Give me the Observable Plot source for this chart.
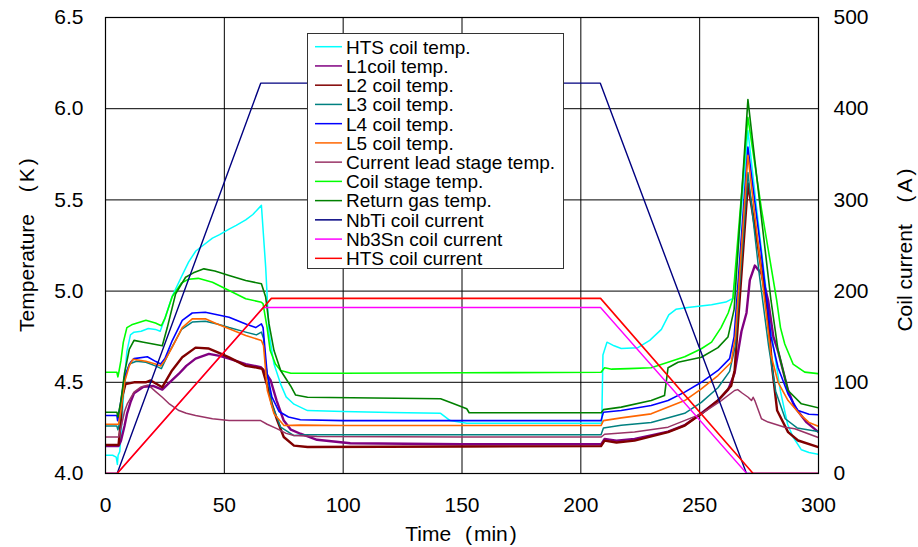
<!DOCTYPE html>
<html><head><meta charset="utf-8">
<script src="https://cdn.jsdelivr.net/npm/d3@7"></script>
<script src="https://cdn.jsdelivr.net/npm/@observablehq/plot@0.6"></script>
<style>
body{margin:0;background:#fff;}
#wrap{position:relative;width:918px;height:547px;font-family:"Liberation Sans",Arial,sans-serif;color:#000;}
.lab{position:absolute;font-size:21px;white-space:nowrap;transform:translate(-50%,-50%);}
.rot{transform:translate(-50%,-50%) rotate(-90deg);}
.po{margin-left:var(--gap);margin-right:var(--in);}
.pc{margin-left:var(--in);}
#legend{position:absolute;left:307px;top:33px;}
</style></head>
<body><div id="wrap"></div>
<script>
// ---- tick values ----
const xTicks = [0, 50, 100, 150, 200, 250, 300];
const tempTicks = [4.0, 4.5, 5.0, 5.5, 6.0, 6.5];
const currentTicks = [0, 100, 200, 300, 400, 500];

// ---- temperature series [time (min), temperature (K)] ----
const htsCoilTemp = [[0,4.10],[3,4.10],[4.5,4.09],[5,4.05],[5.3,4.10],[6,4.12],[7,4.30],[8,4.52],[9,4.67],[10.5,4.76],[12,4.775],[15,4.78],[18,4.795],[21,4.79],[23,4.78],[25,4.85],[28,4.97],[32,5.08],[35,5.16],[38,5.22],[41,5.25],[45,5.29],[48,5.31],[52,5.34],[55,5.36],[59,5.39],[62,5.42],[65.6,5.47],[67.4,5.13],[68.8,4.77],[70.9,4.60],[73.7,4.49],[76,4.42],[79.3,4.38],[85,4.345],[100,4.34],[120,4.335],[141,4.33],[145,4.29],[152,4.275],[180,4.275],[208.8,4.275],[209.3,4.65],[211,4.72],[214,4.70],[217,4.685],[224,4.69],[229,4.73],[233.9,4.79],[237,4.87],[240,4.90],[245,4.91],[255,4.925],[261,4.94],[264,4.96],[266,5.2],[270.3,5.88],[274,5.45],[278,5.0],[281,4.7],[284,4.45],[287,4.27],[289.3,4.2],[292.8,4.13],[296,4.115],[300,4.105]];
const l1CoilTemp = [[0,4.15],[5.5,4.15],[6.5,4.18],[8,4.26],[9.1,4.33],[10.5,4.39],[12,4.44],[16,4.475],[20,4.48],[23.9,4.46],[27,4.50],[30.9,4.547],[34,4.59],[37.9,4.63],[43.5,4.656],[48,4.645],[52,4.63],[59,4.60],[65.3,4.583],[67,4.56],[69.5,4.51],[72,4.40],[75,4.29],[78,4.24],[82,4.218],[89,4.185],[103,4.166],[150,4.16],[208.5,4.16],[210,4.19],[215,4.18],[222.6,4.19],[230,4.21],[236.7,4.23],[243.7,4.265],[250.7,4.33],[257.7,4.40],[262,4.46],[264.7,4.55],[267.6,4.78],[269.7,4.88],[271.1,5.06],[273.2,5.14],[276,5.095],[278.8,4.95],[281,4.75],[283,4.67],[287.2,4.455],[290,4.364],[295,4.28],[300,4.227]];
const l2CoilTemp = [[0,4.157],[5.5,4.157],[6.5,4.3],[7,4.418],[8.4,4.49],[12,4.50],[16.9,4.50],[19,4.51],[23.9,4.473],[28,4.565],[32.3,4.637],[37.9,4.69],[43.5,4.685],[48,4.66],[52,4.637],[59,4.59],[64,4.58],[66,4.574],[67.4,4.51],[68.8,4.45],[70,4.38],[72.3,4.29],[75,4.20],[79.3,4.153],[85,4.145],[150,4.148],[208.5,4.15],[210,4.18],[215,4.17],[222.6,4.18],[236.7,4.227],[243.7,4.263],[250.7,4.327],[257.7,4.40],[263.3,4.482],[264.7,4.565],[270.3,5.59],[274.6,5.24],[278.5,4.90],[280.5,4.58],[282.6,4.345],[287.2,4.227],[291.4,4.181],[300,4.144]];
const l3CoilTemp = [[0,4.26],[4.8,4.26],[5.2,4.24],[5.6,4.26],[7,4.40],[8.5,4.54],[10,4.60],[13,4.615],[17,4.61],[21,4.59],[23.5,4.575],[27,4.67],[32,4.79],[36.5,4.83],[42,4.835],[47,4.82],[52,4.80],[59,4.775],[63.5,4.76],[65.6,4.775],[66.5,4.74],[67.4,4.60],[70,4.38],[73.7,4.254],[79.3,4.208],[85,4.212],[208.5,4.212],[209.5,4.25],[217,4.265],[229.6,4.28],[243.7,4.33],[250.7,4.39],[257.7,4.47],[262.6,4.56],[265,4.70],[270.3,5.65],[275,5.10],[279,4.70],[282,4.45],[286,4.30],[291,4.25],[300,4.23]];
const l4CoilTemp = [[0,4.318],[4.8,4.318],[5.1,4.29],[5.5,4.318],[6.5,4.40],[8,4.53],[10.5,4.61],[12,4.63],[17.6,4.64],[21,4.615],[23.2,4.60],[25,4.63],[28.1,4.729],[32.3,4.84],[36.5,4.88],[42,4.884],[47,4.87],[52,4.857],[59,4.82],[63.2,4.80],[65.6,4.82],[66.3,4.80],[68,4.55],[70,4.42],[73,4.34],[77,4.31],[82,4.295],[100,4.29],[208.5,4.29],[209.5,4.336],[217,4.345],[229.6,4.373],[236.7,4.40],[243.7,4.446],[250.7,4.50],[257.7,4.565],[262.6,4.63],[264.5,4.75],[270.3,5.79],[276,5.20],[280,4.75],[283,4.58],[287.2,4.436],[291.4,4.345],[296,4.325],[300,4.322]];
const l5CoilTemp = [[0,4.27],[5.5,4.27],[6.5,4.35],[8,4.50],[10,4.59],[11.5,4.626],[17,4.615],[21,4.60],[23.2,4.59],[25,4.62],[28.1,4.693],[32.3,4.80],[36.5,4.848],[42,4.848],[47,4.82],[52,4.793],[59,4.757],[65.6,4.729],[66.5,4.70],[68.1,4.455],[70.9,4.327],[75.1,4.263],[82,4.265],[100,4.263],[208.5,4.263],[209.5,4.29],[217,4.305],[229.6,4.327],[243.7,4.40],[250.7,4.464],[257.7,4.537],[263.3,4.61],[265,4.75],[270.3,5.745],[276,5.10],[280,4.65],[283,4.50],[287.2,4.40],[292.8,4.317],[296,4.28],[300,4.258]];
const leadStageTemp = [[0,4.20],[5.5,4.20],[6.5,4.25],[8,4.34],[9.1,4.38],[12,4.446],[15,4.475],[18,4.485],[21,4.45],[23.9,4.418],[27,4.38],[30.9,4.345],[34,4.33],[37.9,4.318],[45,4.30],[52,4.29],[61.8,4.29],[65.3,4.29],[68,4.27],[72.3,4.245],[76,4.22],[79.3,4.208],[89,4.203],[150,4.20],[208.6,4.20],[210,4.215],[222.6,4.227],[236.7,4.254],[250.7,4.327],[259.1,4.40],[264.7,4.455],[266,4.46],[268,4.44],[270.4,4.418],[271.8,4.40],[272.5,4.418],[273.2,4.40],[276,4.30],[278.8,4.282],[285.8,4.254],[290,4.245],[300,4.197]];
const coilStageTemp = [[0,4.555],[4.8,4.555],[5.2,4.53],[5.6,4.555],[6.5,4.62],[7.5,4.72],[9,4.80],[11,4.815],[17,4.84],[21,4.825],[23.5,4.81],[25,4.85],[28.1,4.97],[32,5.045],[35,5.065],[39,5.07],[45,5.049],[52,5.003],[59,4.958],[65.6,4.939],[66.3,4.93],[68,4.80],[69.3,4.674],[71.5,4.60],[73.7,4.565],[78,4.55],[100,4.55],[150,4.552],[208.5,4.555],[210,4.58],[213,4.572],[220,4.575],[229.6,4.58],[236.7,4.61],[243.7,4.64],[250.7,4.684],[255,4.72],[259,4.80],[262,4.88],[264,4.96],[270.3,5.953],[276,5.45],[282.4,4.95],[284,4.80],[285.8,4.71],[289.3,4.60],[294.2,4.556],[300,4.547]];
const returnGasTemp = [[0,4.336],[4.8,4.336],[5.2,4.31],[5.6,4.336],[6.5,4.40],[8,4.55],[10,4.68],[12,4.73],[16,4.72],[20,4.71],[23.9,4.70],[26,4.80],[29.5,4.985],[33.7,5.076],[37,5.10],[41.4,5.122],[46,5.11],[52,5.086],[59,5.058],[65.6,5.04],[67.4,4.967],[68.8,4.82],[70.9,4.674],[73.7,4.565],[77.9,4.48],[80,4.43],[85,4.418],[141,4.41],[146,4.385],[152,4.355],[153,4.333],[208.6,4.333],[209.5,4.35],[217,4.364],[229.6,4.40],[235.2,4.427],[236.7,4.58],[240.9,4.61],[250.7,4.637],[257.7,4.69],[261.9,4.748],[264.5,4.90],[270.3,6.05],[276,5.40],[280,4.95],[283,4.674],[287.2,4.455],[292.8,4.382],[300,4.36]];

// ---- current series [time (min), current (A)] ----
const nbtiCurrent = [[0,0],[4.9,0],[65.3,428],[208.2,428],[269.7,0],[300,0]];
const nb3snCurrent = [[0,0],[4.9,0],[66.4,182],[208.3,182],[269.8,0],[300,0]];
const htsCurrent = [[0,0],[4.9,0],[69.8,192],[208.3,192],[272.5,0],[300,0]];

const names = ["HTS coil temp.","L1coil temp.","L2 coil temp.","L3 coil temp.","L4 coil temp.","L5 coil temp.","Current lead stage temp.","Coil stage temp.","Return gas temp.","NbTi coil current","Nb3Sn coil current","HTS coil current"];
const colors = ["#00ffff","#800080","#800000","#008080","#0000ff","#ff6600","#993366","#00ff00","#008000","#000080","#ff00ff","#ff0000"];
const datasets = [htsCoilTemp,l1CoilTemp,l2CoilTemp,l3CoilTemp,l4CoilTemp,l5CoilTemp,leadStageTemp,coilStageTemp,returnGasTemp,nbtiCurrent,nb3snCurrent,htsCurrent];
const isCurrent = [false,false,false,false,false,false,false,false,false,true,true,true];
const widths = [1.5,2.4,2.4,1.5,1.6,1.6,1.5,1.6,1.6,1.4,1.4,1.6];

// current (A) shares the temperature scale: 0..500 A <-> 4.0..6.5 K
const a2y = a => 4 + a / 200;

const lineMarks = datasets.map((data, i) => Plot.line(data, {
  x: d => d[0],
  y: isCurrent[i] ? d => a2y(d[1]) : d => d[1],
  stroke: colors[i], strokeWidth: widths[i], curve: "linear", clip: true
}));

const chart = Plot.plot({
  width: 918, height: 547,
  marginLeft: 105, marginRight: 100, marginTop: 17, marginBottom: 74,
  x: {domain: [0, 300]},
  y: {domain: [4, 6.5]},
  style: {fontFamily: "Liberation Sans, Arial, sans-serif", fontSize: "21px", background: "white", color: "black"},
  marks: [
    Plot.gridX(xTicks, {stroke: "#000", strokeOpacity: 1, strokeWidth: 1}),
    Plot.gridY(tempTicks, {stroke: "#000", strokeOpacity: 1, strokeWidth: 1}),
    ...lineMarks,
    Plot.frame({stroke: "#000", strokeWidth: 1.2}),
    Plot.axisX(xTicks, {tickSize: 0, tickPadding: 24, label: null, fontSize: 21}),
    Plot.axisY(tempTicks, {anchor: "left", tickFormat: d => d.toFixed(1), tickSize: 0, tickPadding: 22, label: null, fontSize: 21}),
    Plot.axisY(currentTicks.map(a2y), {anchor: "right", tickFormat: d => String(Math.round((d - 4) * 200)), tickSize: 0, tickPadding: 15, label: null, fontSize: 21})
  ]
});

const wrap = document.getElementById("wrap");
wrap.appendChild(chart);

// axis titles: "word (unit)" with wider spacing around the parentheses
function addLabel(word, unit, x, y, rot, gap, inner) {
  const d = document.createElement("div");
  d.className = "lab" + (rot ? " rot" : "");
  d.style.left = x + "px"; d.style.top = y + "px";
  d.style.setProperty("--gap", gap + "px");
  d.style.setProperty("--in", inner + "px");
  d.appendChild(document.createTextNode(word + " "));
  const o = document.createElement("span"); o.className = "po"; o.textContent = "(";
  d.appendChild(o);
  d.appendChild(document.createTextNode(unit));
  const c = document.createElement("span"); c.className = "pc"; c.textContent = ")";
  d.appendChild(c);
  wrap.appendChild(d);
}
addLabel("Temperature", "K", 27, 245, true, 16, 3);
addLabel("Coil current", "A", 905, 250, true, 16, 3);
addLabel("Time", "min", 461, 534, false, 8, 2);

// legend
const lw = 257, lh = 236;
const leg = d3.create("svg").attr("id", "legend").attr("width", lw).attr("height", lh)
  .style("font-family", "Liberation Sans, Arial, sans-serif");
leg.append("rect").attr("x", 0.5).attr("y", 0.5).attr("width", lw - 1).attr("height", lh - 1)
  .attr("fill", "#fff").attr("stroke", "#333").attr("stroke-width", 1);
names.forEach((n, i) => {
  const cy = 13.7 + 19.24 * i;
  leg.append("line").attr("x1", 8).attr("x2", 35).attr("y1", cy).attr("y2", cy)
    .attr("stroke", colors[i]).attr("stroke-width", 1.5);
  leg.append("text").attr("x", 39).attr("y", cy).attr("dy", "0.36em")
    .attr("font-size", 19).attr("fill", "#000").text(n);
});
wrap.appendChild(leg.node());
</script></body></html>
